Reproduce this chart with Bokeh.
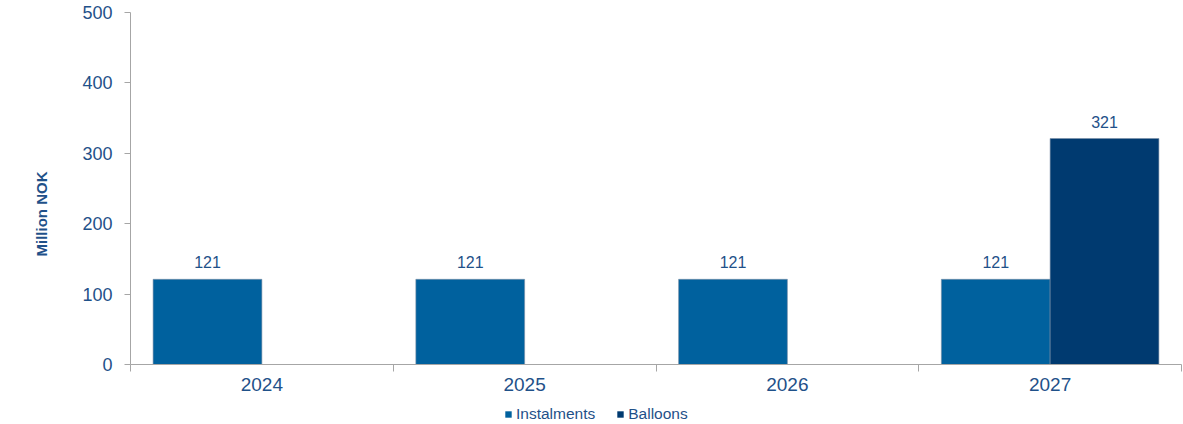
from bokeh.plotting import figure
from bokeh.layouts import column
from bokeh.models import ColumnDataSource, FixedTicker, LabelSet, Legend, LegendItem, Range1d, Title
from bokeh.core.properties import value
from bokeh.embed import file_html
from bokeh.resources import INLINE

years = ["2024", "2025", "2026", "2027"]
instalments = [121, 121, 121, 121]
balloons = [0, 0, 0, 321]
y_ticks = [0, 100, 200, 300, 400, 500]
series_names = ["Instalments", "Balloons"]
y_title = "Million NOK"

TXT = "#1F5189"
AX = "#A6A6A6"
C_INST = "#00619E"
C_BALL = "#003A70"
OUTL = "#7A8FA6"
FONT = "Liberation Sans"

centers = [i + 0.5 for i in range(len(years))]
bw = 0.414

inst_src = ColumnDataSource(dict(x=[c - bw / 2 for c in centers], top=instalments,
                                 lbl=[str(v) for v in instalments]))
bx = [c + bw / 2 for c, v in zip(centers, balloons) if v > 0]
bv = [v for v in balloons if v > 0]
ball_src = ColumnDataSource(dict(x=bx, top=bv, lbl=[str(v) for v in bv]))

p = figure(width=1183, height=396, output_backend="svg", toolbar_location=None,
           x_range=Range1d(0, len(years)), y_range=Range1d(0, 500),
           min_border_left=129, min_border_right=2, min_border_top=12, min_border_bottom=32)
p.outline_line_color = None
p.xgrid.visible = False
p.ygrid.visible = False

p.vbar(x="x", top="top", width=bw, source=inst_src, fill_color=C_INST, line_color=OUTL, line_width=0.6)
p.vbar(x="x", top="top", width=bw, source=ball_src, fill_color=C_BALL, line_color=OUTL, line_width=0.6)

for src in (inst_src, ball_src):
    p.add_layout(LabelSet(x="x", y="top", text="lbl", source=src, y_offset=11,
                          text_align="center", text_baseline="bottom",
                          text_font=value(FONT), text_font_size="16px", text_color=TXT))

# y axis
ya = p.yaxis[0]
ya.ticker = FixedTicker(ticks=y_ticks)
ya.axis_line_color = AX
ya.major_tick_line_color = AX
ya.major_tick_out = 6
ya.major_tick_in = 0
ya.minor_tick_line_color = None
ya.major_label_text_font = FONT
ya.major_label_text_font_size = "18px"
ya.major_label_text_color = TXT
ya.major_label_standoff = 12

# y axis title, a little below the frame centre
p.add_layout(Title(text=y_title, align="left", offset=108, standoff=60,
                   text_font=FONT, text_font_size="15px", text_font_style="bold",
                   text_color=TXT), "left")

# x axis: labels at category centres, ticks at category boundaries
xa = p.xaxis[0]
xa.ticker = FixedTicker(ticks=centers, minor_ticks=list(range(len(years) + 1)))
xa.major_label_overrides = {c: y for c, y in zip(centers, years)}
xa.axis_line_color = AX
xa.major_tick_line_color = None
xa.major_tick_out = 0
xa.major_tick_in = 0
xa.minor_tick_line_color = AX
xa.minor_tick_out = 7
xa.minor_tick_in = 0
xa.major_label_text_font = FONT
xa.major_label_text_font_size = "19px"
xa.major_label_text_color = TXT
xa.major_label_standoff = 6

# legend strip below the chart (its frame is aligned with the chart frame)
lg = figure(width=1183, height=28, output_backend="svg", toolbar_location=None,
            x_range=Range1d(1, 2), y_range=Range1d(1, 2),
            min_border_left=0, min_border_right=0, min_border_top=0, min_border_bottom=0)
lg.axis.visible = False
lg.xgrid.visible = False
lg.ygrid.visible = False
lg.outline_line_color = None
k1 = lg.vbar(x=[0], top=[0], bottom=[0], width=0.1, fill_color=C_INST, line_color=None)
k2 = lg.vbar(x=[0], top=[0], bottom=[0], width=0.1, fill_color=C_BALL, line_color=None)
legend = Legend(items=[LegendItem(label=series_names[0], renderers=[k1]),
                       LegendItem(label=series_names[1], renderers=[k2])],
                orientation="horizontal", location=(374, 1),
                label_text_font=FONT, label_text_font_size="15.5px", label_text_color=TXT,
                glyph_width=8, glyph_height=8, label_standoff=4, spacing=21,
                padding=2, margin=0, border_line_color=None, background_fill_alpha=0)
lg.add_layout(legend, "center")

layout = column(p, lg, spacing=0)
open("out.html", "w").write(file_html(layout, INLINE))
